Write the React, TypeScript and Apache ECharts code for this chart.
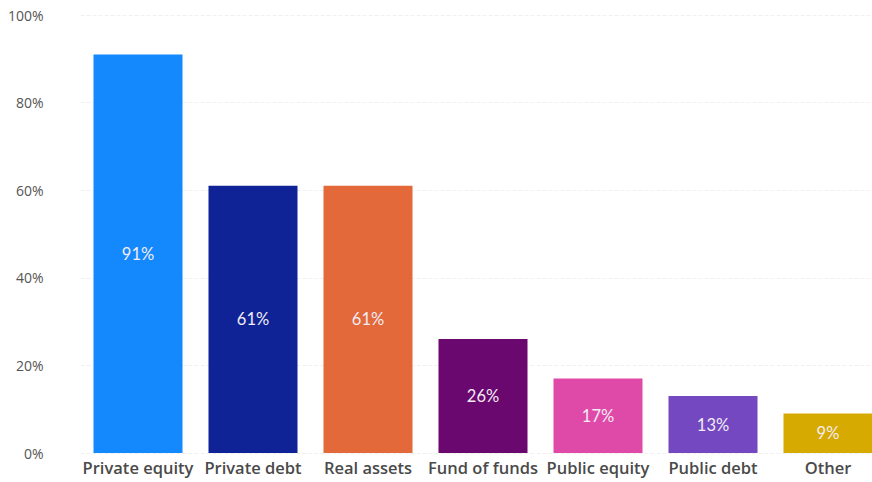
import React, { useEffect, useRef } from "react";
import * as echarts from "echarts";

const categories = ["Private equity", "Private debt", "Real assets", "Fund of funds", "Public equity", "Public debt", "Other"];
const values = [91, 61, 61, 26, 17, 13, 9];
const colors = ["#1389fd", "#0f2396", "#e3683a", "#6a086f", "#df4aa9", "#7448c0", "#d6aa00"];
const yTicks = [0, 20, 40, 60, 80, 100];

export default function App() {
  const ref = useRef<HTMLDivElement>(null);
  useEffect(() => {
    const chart = echarts.init(ref.current!, null, { renderer: "svg" });
    chart.setOption({
      animation: false,
      backgroundColor: "#ffffff",
      grid: { left: 80.5, right: 0.5, top: 15, bottom: 29, containLabel: false, outerBoundsMode: "none" },
      xAxis: {
        type: "category",
        data: categories,
        axisLine: { show: false },
        axisTick: { show: false },
        axisLabel: {
          color: "#4a4a4a",
          fontSize: 16.5,
          fontWeight: 600,
          fontFamily: "Open Sans",
          margin: 6,
          interval: 0,
        },
      },
      yAxis: {
        type: "value",
        min: yTicks[0],
        max: yTicks[yTicks.length - 1],
        interval: 20,
        axisLine: { show: false },
        axisTick: { show: false },
        axisLabel: {
          formatter: "{value}%",
          color: "#555555",
          fontSize: 14,
          fontFamily: "Open Sans",
          margin: 37,
        },
        splitLine: { lineStyle: { color: "#f0f0f0", type: "dashed", width: 1 } },
      },
      series: [
        {
          type: "bar",
          barWidth: 89,
          data: values.map((v, i) => ({ value: v, itemStyle: { color: colors[i] } })),
          label: {
            show: true,
            position: "inside",
            formatter: "{c}%",
            color: "#f2ecf4",
            fontSize: 16.5,
            fontFamily: "Lato",
          },
        },
      ],
    });
    return () => chart.dispose();
  }, []);
  return (
    <div style={{ position: "fixed", left: 0, top: 0, width: 872, height: 482, overflow: "hidden", background: "#fff" }}>
      <div ref={ref} style={{ width: 886, height: 482 }} />
    </div>
  );
}
